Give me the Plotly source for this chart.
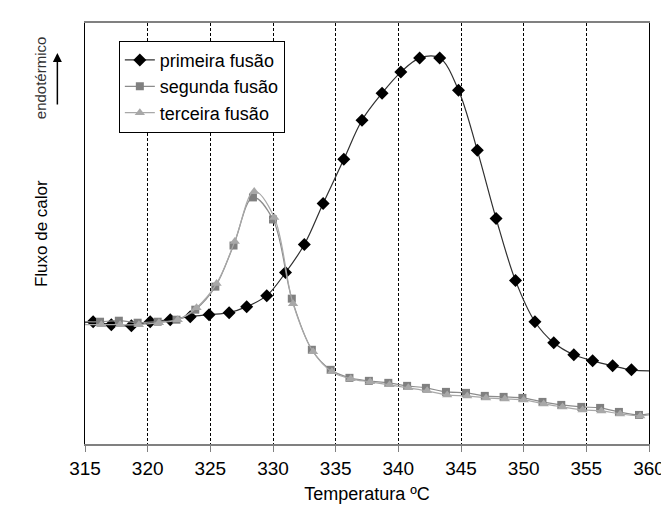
import plotly.graph_objects as go

# values (y in arbitrary heat-flow units, 0 = bottom of plot)
temp_1 = [315.65, 317.1, 318.7, 320.2, 321.8, 323.4, 324.9, 326.5, 327.9, 329.5, 331.0, 332.5, 334.0,
          335.65, 337.1, 338.7, 340.2, 341.7, 343.3, 344.8, 346.3, 347.8, 349.35, 350.9, 352.4, 354.0,
          355.5, 357.1, 358.6]
flux_1 = [122, 119, 118, 122, 124, 127, 129, 131, 137, 148, 171, 199, 240,
          284, 323, 350, 371, 385, 385, 353, 293, 225, 163, 122, 101, 89,
          83, 78, 74]

temp_2 = [316.2, 317.7, 319.2, 320.8, 322.3, 323.8, 325.4, 326.85, 328.4, 330.0, 331.5, 333.1, 334.6,
          336.1, 337.65, 339.2, 340.7, 342.2, 343.8, 345.4, 346.9, 348.4, 349.9, 351.5, 353.0, 354.6,
          356.1, 357.6, 359.2]
flux_2 = [122, 123, 121, 122, 124, 134, 157, 198, 246, 224, 145, 94, 74,
          66, 63, 61, 58, 56, 52, 51, 48, 47, 46, 42, 39, 37,
          36, 32, 29]

temp_3 = [316.3, 317.8, 319.3, 320.9, 322.4, 323.9, 325.5, 326.95, 328.5, 330.1, 331.6, 333.2, 334.7,
          336.2, 337.75, 339.3, 340.8, 342.3, 343.9, 345.5, 347.0, 348.5, 350.0, 351.6, 353.1, 354.7,
          356.2, 357.7, 359.3]
flux_3 = [119, 119, 119, 121, 124, 136, 160, 202, 252, 226, 140, 92, 72,
          65, 62, 59, 56, 53, 49, 48, 46, 45, 44, 40, 37, 34,
          33, 30, 28]

# where the smoothed lines start and stop past the markers
line_start = {"primeira": 121, "segunda": 122, "terceira": 119}
line_end = {"primeira": 73, "segunda": 30, "terceira": 29}

x_ticks = [315, 320, 325, 330, 335, 340, 345, 350, 355, 360]

FONT = "Liberation Sans, Arial, sans-serif"

fig = go.Figure()

series = [
    ("primeira fusão", "primeira", temp_1, flux_1, "black", "#303030", "diamond", 10),
    ("segunda fusão", "segunda", temp_2, flux_2, "#808080", "#8c8c8c", "square", 8),
    ("terceira fusão", "terceira", temp_3, flux_3, "#a8a8a8", "#a8a8a8", "triangle-up", 9),
]

for name, key, xs, ys, mcol, lcol, sym, size in series:
    # smoothed line through the points
    fig.add_trace(go.Scatter(
        x=[315] + xs + [360],
        y=[line_start[key]] + ys + [line_end[key]],
        mode="lines",
        line=dict(color=lcol, width=1.2, shape="spline", smoothing=1),
        showlegend=False,
        hoverinfo="skip"
    ))
    # markers
    fig.add_trace(go.Scatter(
        x=xs, y=ys,
        mode="markers",
        marker=dict(symbol=sym, color=mcol, size=size),
        showlegend=False,
        name=name
    ))
    # legend entry
    fig.add_trace(go.Scatter(
        x=[None], y=[None],
        mode="lines+markers",
        name=name,
        legendgroup=key,
        line=dict(color=lcol, width=1.2),
        marker=dict(symbol=sym, color=mcol, size=size)
    ))

fig.update_xaxes(
    range=[315, 360],
    tickvals=x_ticks,
    ticks="outside", ticklen=6, tickcolor="#808080",
    showline=True, linecolor="#808080", linewidth=2, mirror=True,
    showgrid=True, gridcolor="black", gridwidth=1, griddash="3px,2px",
    zeroline=False,
    tickfont=dict(family=FONT, size=19, color="black"),
    title=dict(text="Temperatura ºC", font=dict(family=FONT, size=18, color="black"), standoff=10)
)
fig.update_yaxes(
    range=[0, 420],
    showticklabels=False, ticks="",
    showline=True, linecolor="black", linewidth=1, mirror=True,
    showgrid=False, zeroline=False
)

fig.update_layout(
    width=669, height=506,
    margin=dict(l=77, r=19, t=15, b=70),
    paper_bgcolor="white", plot_bgcolor="white",
    font=dict(family=FONT, color="black"),
    legend=dict(
        x=0.06, y=0.958, xanchor="left", yanchor="top",
        bgcolor="white", bordercolor="black", borderwidth=1,
        font=dict(family=FONT, size=18, color="black"),
        traceorder="grouped", tracegroupgap=0, itemwidth=30
    ),
    annotations=[
        dict(text="Fluxo de calor", x=-0.077, y=0.5, xref="paper", yref="paper",
             xanchor="center", yanchor="middle",
             textangle=-90, showarrow=False, font=dict(family=FONT, size=17, color="black")),
        dict(text="endotérmico", x=-0.079, y=0.87, xref="paper", yref="paper",
             xanchor="center", yanchor="middle",
             textangle=-90, showarrow=False, font=dict(family=FONT, size=15, color="#333333")),
        dict(text="", x=-0.049, y=0.929, xref="paper", yref="paper",
             ax=0, ay=53, showarrow=True, arrowhead=2, arrowsize=1.2, arrowwidth=1.5,
             arrowcolor="black"),
    ]
)

fig.write_html("out.html")
